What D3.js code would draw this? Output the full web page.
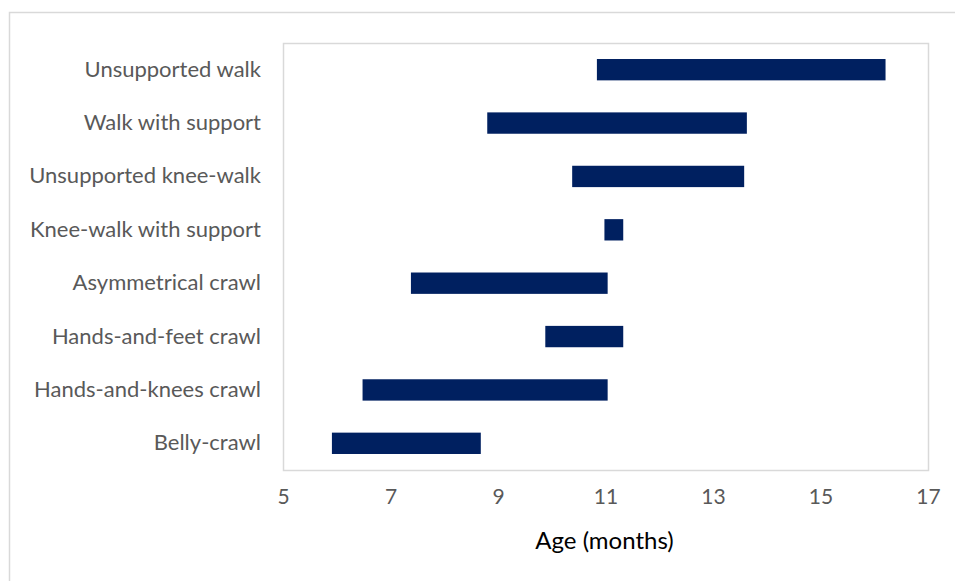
<!DOCTYPE html>
<html>
<head>
<meta charset="utf-8">
<script src="https://cdn.jsdelivr.net/npm/d3@7"></script>
<style>
  html, body { margin: 0; padding: 0; background: #fff; }
  svg { display: block; }
</style>
</head>
<body>
<svg id="chart" width="955" height="581"></svg>
<script>
// Motor milestones: age range (months) for each stage, top to bottom
const milestones = [
  "Unsupported walk",
  "Walk with support",
  "Unsupported knee-walk",
  "Knee-walk with support",
  "Asymmetrical crawl",
  "Hands-and-feet crawl",
  "Hands-and-knees crawl",
  "Belly-crawl"
];
const startAge = [10.84, 8.80, 10.38, 10.98, 7.38, 9.88, 6.48, 5.91];
const endAge   = [16.21, 13.63, 13.58, 11.33, 11.04, 11.33, 11.04, 8.68];
const xTicks = [5, 7, 9, 11, 13, 15, 17];
const xTitle = "Age (months)";

const svg = d3.select("#chart");
const font = "Lato, 'Open Sans', sans-serif";

const plot = { left: 283, right: 928, top: 43, bottom: 470 };

// Outer chart frame
svg.append("rect")
  .attr("x", 9.5).attr("y", 12.5)
  .attr("width", 960).attr("height", 600)
  .attr("fill", "#fff").attr("stroke", "#d9d9d9").attr("stroke-width", 1.5);

// Plot area frame
svg.append("rect")
  .attr("x", plot.left + 0.5).attr("y", plot.top + 0.5)
  .attr("width", plot.right - plot.left).attr("height", plot.bottom - plot.top)
  .attr("fill", "none").attr("stroke", "#d9d9d9").attr("stroke-width", 1.5);

const x = d3.scaleLinear().domain([5, 17]).range([plot.left, plot.right]);
const y = d3.scaleBand().domain(milestones).range([plot.top, plot.bottom])
  .paddingInner(0.6).paddingOuter(0.3);

const rows = milestones.map((m, i) => ({ name: m, start: startAge[i], end: endAge[i] }));

svg.append("g").selectAll("rect")
  .data(rows)
  .join("rect")
  .attr("x", d => x(d.start))
  .attr("y", d => y(d.name))
  .attr("width", d => x(d.end) - x(d.start))
  .attr("height", y.bandwidth())
  .attr("fill", "#002060");

// Category axis (labels only)
const yAxis = svg.append("g")
  .attr("transform", `translate(${plot.left},0)`)
  .call(d3.axisLeft(y).tickSize(0).tickPadding(22));
yAxis.select(".domain").remove();
yAxis.selectAll("text")
  .attr("font-family", font).attr("font-size", 22).attr("fill", "#595959");

// Age axis (labels only)
const xAxis = svg.append("g")
  .attr("transform", `translate(0,${plot.bottom})`)
  .call(d3.axisBottom(x).tickValues(xTicks).tickSize(0).tickPadding(19));
xAxis.select(".domain").remove();
xAxis.selectAll("text")
  .attr("font-family", font).attr("font-size", 21).attr("fill", "#595959");

svg.append("text")
  .attr("x", (plot.left + plot.right) / 2 - 1)
  .attr("y", 549)
  .attr("text-anchor", "middle")
  .attr("font-family", font).attr("font-size", 24).attr("fill", "#000")
  .text(xTitle);
</script>
</body>
</html>
